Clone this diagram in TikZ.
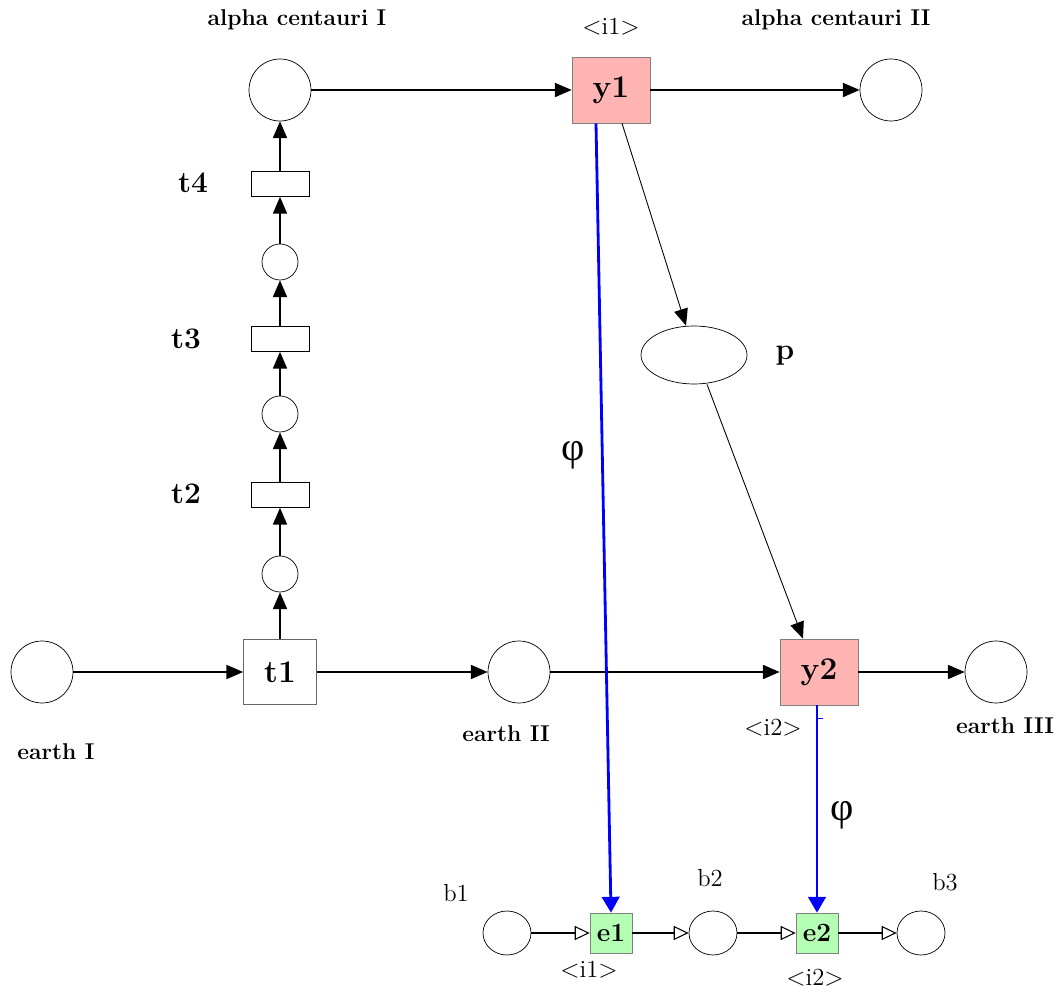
\documentclass[tikz,border=0pt]{standalone}
\usepackage{fontspec}
\usetikzlibrary{arrows.meta,shapes.geometric}
\newfontfamily\greekfont{Liberation Serif}
\definecolor{eventpink}{RGB}{255,180,180}
\definecolor{eventgreen}{RGB}{180,255,180}
\begin{document}
\begin{tikzpicture}[x=0.02cm,y=-0.02cm,
  place_style/.style={circle,draw=black,minimum size=12.4mm,inner sep=0pt},
  small_place_style/.style={circle,draw=black,minimum size=7.2mm,inner sep=0pt},
  low_place_style/.style={ellipse,draw=black,minimum width=9.6mm,minimum height=8.8mm,inner sep=0pt},
  trans_style/.style={rectangle,draw=black,minimum width=11.6mm,minimum height=5mm,inner sep=0pt},
  big_trans_style/.style={rectangle,draw=black!60,minimum width=14.6mm,minimum height=13mm,inner sep=0pt,
    font=\bfseries\fontsize{18}{20}\selectfont},
  event_style/.style={rectangle,draw=black!50,fill=eventpink,minimum width=15.6mm,minimum height=13.2mm,inner sep=0pt,
    font=\bfseries\fontsize{18}{20}\selectfont},
  low_event_style/.style={rectangle,draw=black!50,fill=eventgreen,minimum width=8.4mm,minimum height=8mm,inner sep=0pt,
    font=\bfseries\fontsize{15}{17}\selectfont},
  label_style/.style={font=\bfseries\fontsize{13}{15}\selectfont},
  tlabel_style/.style={font=\bfseries\fontsize{17}{19}\selectfont},
  plain_label_style/.style={font=\fontsize{14}{16}\selectfont},
  phi_label_style/.style={font=\greekfont\fontsize{23}{25}\selectfont},
  edge_style/.style={draw=black,line width=0.8pt,-{Triangle[length=9.5pt,width=8pt]}},
  low_edge_style/.style={draw=black,line width=0.8pt,-{Triangle[open,length=8.5pt,width=8pt,line width=0.6pt]}},
  phi_style/.style={draw=blue,line width=1.6pt,-{Triangle[length=9pt,width=10pt]}}]
  \useasboundingbox (0,0) rectangle (1061,996);
  % upper net
  \node[place_style] (ac1) at (280, 90) {};
  \node[event_style] (y1) at (611, 90) {y1};
  \node[place_style] (ac2) at (891, 90) {};
  \node[trans_style] (t4) at (280, 184) {};
  \node[small_place_style] (s3) at (280, 262) {};
  \node[trans_style] (t3) at (280, 339) {};
  \node[small_place_style] (s2) at (280, 414) {};
  \node[trans_style] (t2) at (280, 495) {};
  \node[small_place_style] (s1) at (280, 574) {};
  \node[big_trans_style] (t1) at (280, 672) {t1};
  \node[place_style] (e1p) at (42, 672) {};
  \node[place_style] (e2p) at (519, 672) {};
  \node[event_style] (y2) at (819, 672) {y2};
  \node[place_style] (e3p) at (996, 672) {};
  \node[ellipse,draw=black,minimum width=21.2mm,minimum height=11.6mm,inner sep=0pt] (p) at (694, 355) {};
  % lower net
  \node[low_place_style] (b1) at (507, 933) {};
  \node[low_event_style] (e1) at (611, 933) {e1};
  \node[low_place_style] (b2) at (713, 933) {};
  \node[low_event_style] (e2) at (817, 933) {e2};
  \node[low_place_style] (b3) at (921, 933) {};
  % labels
  \node[label_style] (lac1) at (297, 20) {alpha centauri I};
  \node[label_style] (lac2) at (836, 20) {alpha centauri II};
  \node[plain_label_style] (li1) at (611, 27) {$<$i1$>$};
  \node[tlabel_style] (lt4) at (193, 183) {t4};
  \node[tlabel_style] (lt3) at (186, 339) {t3};
  \node[tlabel_style] (lt2) at (186, 494) {t2};
  \node[tlabel_style] (lp) at (785, 356) {p};
  \node[label_style] (lea1) at (56, 752) {earth I};
  \node[label_style] (lea2) at (506, 734) {earth II};
  \node[label_style] (lea3) at (1005, 726) {earth III};
  \node[plain_label_style] (li2) at (773, 728) {$<$i2$>$};
  \node[phi_label_style] (lphi1) at (573, 455) {φ};
  \node[phi_label_style] (lphi2) at (842, 815) {φ};
  \node[plain_label_style] (lb1) at (456, 893) {b1};
  \node[plain_label_style] (lb2) at (710, 878) {b2};
  \node[plain_label_style] (lb3) at (945, 882) {b3};
  \node[plain_label_style] (le1) at (589, 970) {$<$i1$>$};
  \node[plain_label_style] (le2) at (815, 978) {$<$i2$>$};
  % arcs
  \draw[edge_style] (e1p) edge (t1);
  \draw[edge_style] (t1) edge (e2p);
  \draw[edge_style] (e2p) edge (y2);
  \draw[edge_style] (y2) edge (e3p);
  \draw[edge_style] (t1) edge (s1);
  \draw[edge_style] (s1) edge (t2);
  \draw[edge_style] (t2) edge (s2);
  \draw[edge_style] (s2) edge (t3);
  \draw[edge_style] (t3) edge (s3);
  \draw[edge_style] (s3) edge (t4);
  \draw[edge_style] (t4) edge (ac1);
  \draw[edge_style] (ac1) edge (y1);
  \draw[edge_style] (y1) edge (ac2);
  \draw[edge_style,line width=0.5pt] ([xshift=2.2mm]y1.south) -- ([xshift=-1.6mm]p.north);
  \draw[edge_style,line width=0.5pt] ([xshift=2.6mm]p.south) -- ([xshift=-3.2mm]y2.north);
  \draw[low_edge_style] (b1) edge (e1);
  \draw[low_edge_style] (e1) edge (b2);
  \draw[low_edge_style] (b2) edge (e2);
  \draw[low_edge_style] (e2) edge (b3);
  % homomorphism
  \draw[phi_style] ([xshift=-3mm]y1.south) -- (e1.north);
  \draw[phi_style] (y2.south -| e2.north) -- (e2.north);
  \draw[draw=blue,line width=0.5pt] (817,718) -- (823,718);
\end{tikzpicture}
\end{document}
